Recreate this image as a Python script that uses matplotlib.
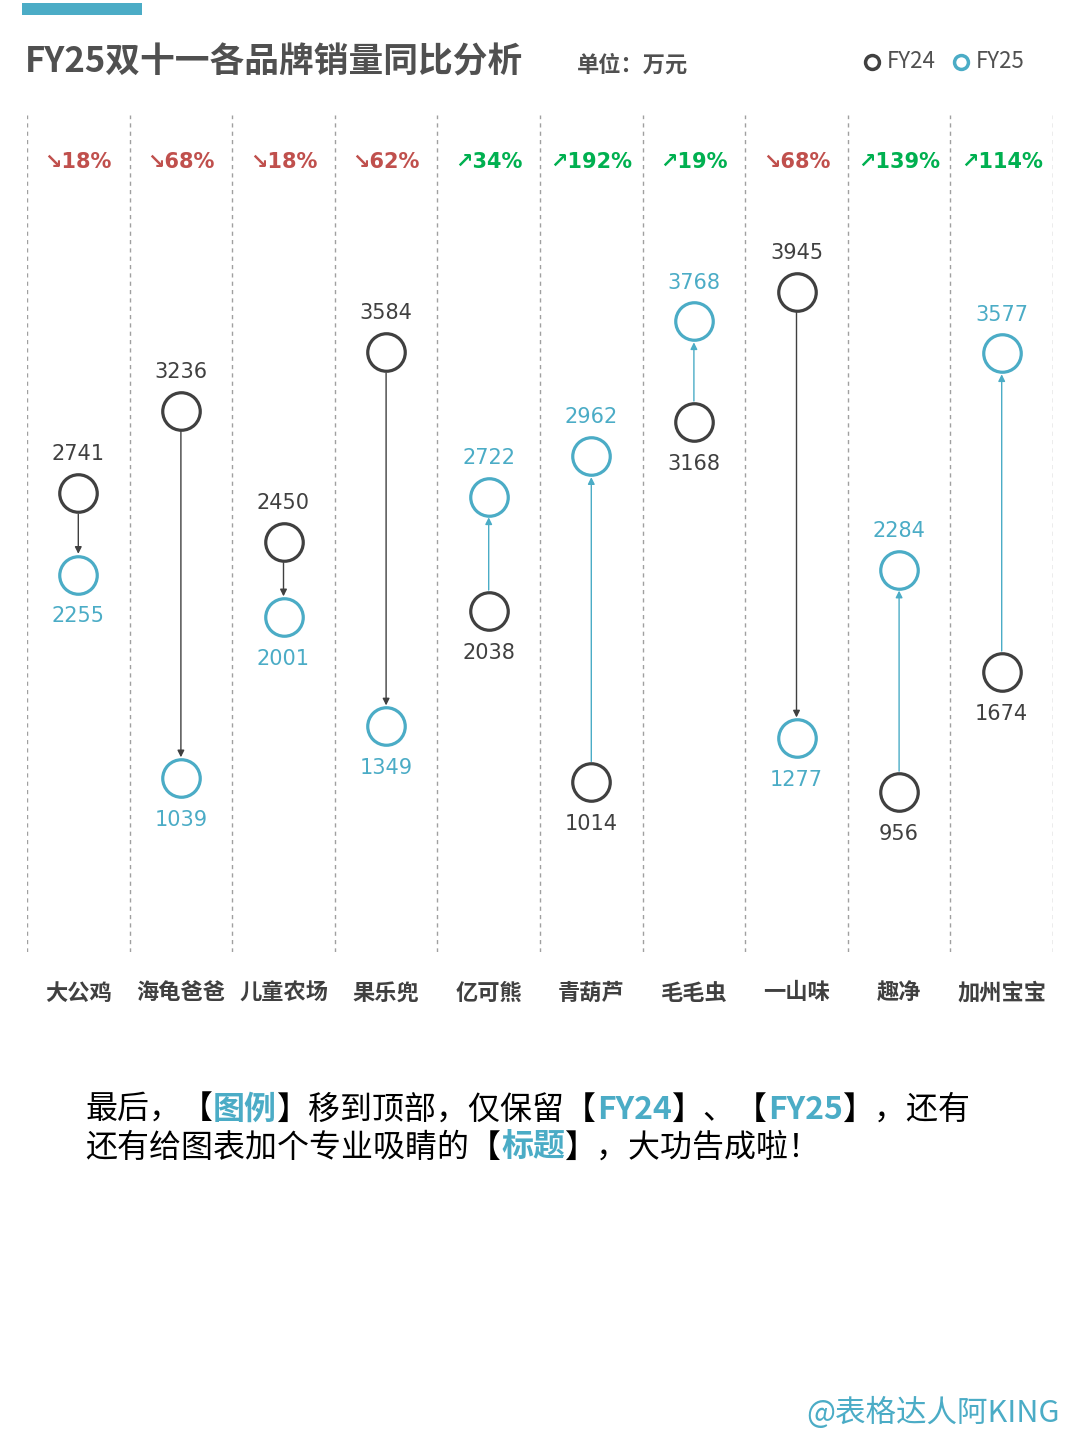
import matplotlib
matplotlib.use("Agg")
import matplotlib.pyplot as plt
from matplotlib.patches import Rectangle
from matplotlib.lines import Line2D

plt.rcParams['font.family'] = ['Noto Sans CJK SC', 'DejaVu Sans']

brands = ["大公鸡", "海龟爸爸", "儿童农场", "果乐兜", "亿可熊", "青葫芦", "毛毛虫", "一山味", "趣净", "加州宝宝"]
fy24 = [2741, 3236, 2450, 3584, 2038, 1014, 3168, 3945, 956, 1674]
fy25 = [2255, 1039, 2001, 1349, 2722, 2962, 3768, 1277, 2284, 3577]

TEAL = "#4BACC6"; DARK = "#404040"; RED = "#C0504D"; GREEN = "#00B050"

fig = plt.figure(figsize=(10.8, 14.4), dpi=100)
ax = fig.add_axes([0.025, 0.3389, 0.95, 0.581])
ax.set_xlim(-0.5, len(brands) - 0.5)
ax.set_ylim(0, 5000)
ax.axis("off")

for i in range(len(brands) + 1):
    ax.axvline(i - 0.5, color="#A0A0A0", ls=(0, (3, 3)), lw=1)

for i, (a, b) in enumerate(zip(fy24, fy25)):
    up = b > a
    col = TEAL if up else DARK
    ax.annotate("", xy=(i, b), xytext=(i, a),
                arrowprops=dict(arrowstyle="-|>", color=col, lw=1, shrinkA=15, shrinkB=15, mutation_scale=10))
    ax.plot(i, a, 'o', ms=27, mfc="white", mec=DARK, mew=2.3, zorder=3)
    ax.plot(i, b, 'o', ms=27, mfc="white", mec=TEAL, mew=2.3, zorder=3)
    hi, lo = (b, a) if up else (a, b)
    ax.annotate(str(hi), (i, hi), xytext=(0, 28), textcoords="offset points", ha="center", va="center",
                fontsize=15, color=TEAL if up else DARK, family=["DejaVu Sans"])
    ax.annotate(str(lo), (i, lo), xytext=(0, -30), textcoords="offset points", ha="center", va="center",
                fontsize=15, color=DARK if up else TEAL, family=["DejaVu Sans"])
    pct = round(abs(b - a) / a * 100)
    ax.text(i, 0.944, ("↗" if up else "↘") + f"{pct}%", transform=ax.get_xaxis_transform(),
            ha="center", va="center", fontsize=15, fontweight="bold", color=GREEN if up else RED,
            family=["DejaVu Sans"])
    ax.text(i, -0.049, brands[i], transform=ax.get_xaxis_transform(), ha="center", va="center",
            fontsize=16, fontweight="bold", color=DARK)

# header
fig.patches.append(Rectangle((22 / 1080, 1 - 15 / 1440), 120 / 1080, 12 / 1440, transform=fig.transFigure,
                             color=TEAL, lw=0))
fig.text(25 / 1080, 1 - 62 / 1440, "FY25双十一各品牌销量同比分析", fontsize=25, fontweight="bold",
         color="#505050", va="center")
fig.text(577 / 1080, 1 - 65 / 1440, "单位：万元", fontsize=16, fontweight="bold", color="#505050", va="center")
fig.lines.append(Line2D([872 / 1080], [1 - 62 / 1440], marker='o', ms=10, mfc="white", mec=DARK, mew=2.5,
                        transform=fig.transFigure))
fig.text(887 / 1080, 1 - 62 / 1440, "FY24", fontsize=16, color="#505050", va="center")
fig.lines.append(Line2D([961 / 1080], [1 - 62 / 1440], marker='o', ms=10, mfc="white", mec=TEAL, mew=2.5,
                        transform=fig.transFigure))
fig.text(976 / 1080, 1 - 62 / 1440, "FY25", fontsize=16, color="#505050", va="center")

# bottom note with coloured segments
fig.canvas.draw()
renderer = fig.canvas.get_renderer()
def segline(x0, ypix, segs):
    x = x0
    for s, c, bold in segs:
        t = fig.text(x / 1080, 1 - ypix / 1440, s, fontsize=23, color=c, va="center",
                     fontweight="bold" if bold else "normal")
        bb = t.get_window_extent(renderer)
        x += bb.width
line1 = [("最后，【", "black", False), ("图例", TEAL, True), ("】移到顶部，仅保留【", "black", False),
         ("FY24", TEAL, True), ("】、【", "black", False), ("FY25", TEAL, True), ("】，还有", "black", False)]
line2 = [("还有给图表加个专业吸睛的【", "black", False), ("标题", TEAL, True), ("】，大功告成啦！", "black", False)]
segline(85, 1110, line1)
segline(85, 1148, line2)

fig.text(1060 / 1080, 1 - 1413 / 1440, "@表格达人阿KING", fontsize=22, color=TEAL, ha="right", va="center")

fig.savefig("out.png", dpi=100, facecolor="white")
